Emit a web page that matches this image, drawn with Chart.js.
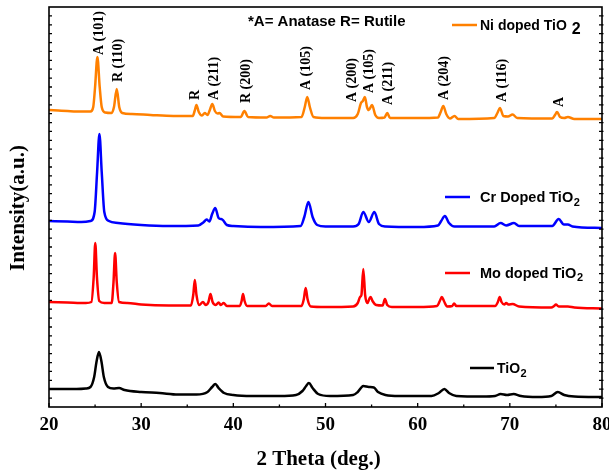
<!DOCTYPE html>
<html>
<head>
<meta charset="utf-8">
<script src="https://cdn.jsdelivr.net/npm/chart.js@4.4.0/dist/chart.umd.min.js"></script>
<style>
  html, body { margin: 0; padding: 0; background: #fff; }
  #wrap { width: 609px; height: 474px; }
</style>
</head>
<body>
<div id="wrap"><canvas id="xrd" width="609" height="474"></canvas></div>
<script>
// XRD patterns, intensities in arbitrary units (each pattern already offset)
const xTicks = [20, 30, 40, 50, 60, 70, 80];

const seriesNames = ['TiO', 'Mo doped TiO', 'Cr Doped TiO', 'Ni doped TiO'];
const seriesColors = ['#000000', '#ff0000', '#0000ff', '#ff8000'];

const tio2Theta = [20, 21, 22, 23, 24, 24.5, 24.9, 25.15, 25.42, 25.7, 25.95, 26.4, 27, 27.6, 28.2, 30, 32, 34, 36, 37.2, 37.7, 38.05, 38.4, 39, 40, 42, 45, 46.8, 47.5, 47.9, 48.2, 48.6, 49.2, 50.5, 53, 53.5, 54.1, 54.7, 55.25, 55.7, 56.5, 58, 61.5, 62.3, 62.9, 63.4, 64.2, 67, 68.4, 69, 69.7, 70.4, 71.2, 73, 74.5, 75.2, 75.9, 77, 80];
const tio2Counts = [18, 18, 18, 18, 18.5, 20, 30, 45, 55, 45, 30, 20, 18.5, 19, 17, 15, 14, 12.5, 12.5, 15, 20, 23, 19, 14, 12, 11, 11, 12, 16, 21, 24, 19, 13, 11, 12, 15, 21, 20, 19.5, 15, 12, 11, 11, 14, 18, 14, 11, 10.5, 11, 13, 12, 13, 11, 10, 11, 15, 12, 10.5, 10];

const moTheta = [20, 22, 24, 24.6, 24.85, 25.02, 25.2, 25.45, 26, 26.8, 27, 27.17, 27.35, 27.6, 28.5, 30, 33, 35.4, 35.65, 35.82, 36, 36.3, 36.7, 37, 37.3, 37.52, 37.75, 38.1, 38.4, 38.65, 38.95, 39.3, 40.7, 40.9, 41.05, 41.22, 41.5, 43.5, 43.85, 44.2, 47.4, 47.65, 47.85, 48.05, 48.4, 50, 53, 53.5, 53.75, 53.9, 54.1, 54.3, 54.55, 54.75, 54.9, 55.1, 55.5, 56.2, 56.45, 56.7, 57.2, 60, 62.1, 62.4, 62.62, 62.85, 63.2, 63.75, 63.95, 64.2, 68.4, 68.7, 68.9, 69.1, 69.4, 69.6, 69.85, 70.3, 71, 74.5, 74.8, 75, 75.3, 76.3, 77, 80];
const moCounts = [105, 104.5, 104, 105, 130, 164, 130, 106, 104, 104, 125, 154, 125, 105, 104, 102.5, 101.5, 101.5, 112, 127, 112, 102, 105, 102, 105, 113, 105, 102, 104.5, 102, 104, 101, 101, 106, 113, 106, 101, 101, 103.5, 101, 101, 108, 119, 108, 100.5, 100, 100.5, 104, 110, 112, 138, 112, 104, 108, 110, 106, 102, 101.5, 108, 102, 100, 100, 101, 106, 110, 106, 100.5, 101, 103.5, 101, 101, 105, 110, 105, 102.5, 104, 102.5, 103, 100.5, 99.5, 101, 102.5, 100.5, 100.5, 99.5, 98.5];

const crTheta = [20, 22, 23.5, 24.5, 24.95, 25.22, 25.47, 25.72, 26, 26.5, 27.5, 30, 33, 36.2, 36.8, 37.1, 37.4, 37.7, 38.04, 38.4, 38.8, 39.3, 40, 43, 47.3, 47.7, 48.15, 48.6, 49.1, 50, 53, 53.6, 54.1, 54.7, 55.3, 55.8, 56.5, 60, 62.2, 62.55, 62.95, 63.4, 64, 68.3, 69, 69.6, 70.45, 71, 74.6, 75.3, 75.85, 76.3, 76.8, 80];
const crCounts = [186, 185.5, 185, 186, 195, 235, 273, 235, 195, 186, 184, 182, 181, 181.5, 185, 187.5, 185.5, 193, 199, 189, 187.5, 182, 181, 180, 181, 190, 205, 190, 182, 180.5, 180.5, 183, 195, 185, 195, 183, 180.5, 180, 181.5, 186, 191, 184, 180.5, 180.5, 184, 181.5, 184, 181, 181, 188, 182.5, 182.5, 180.5, 179];

const niTheta = [20, 21, 22, 23.5, 24.5, 24.8, 25, 25.25, 25.5, 25.72, 26.1, 26.8, 27.05, 27.35, 27.62, 27.95, 29, 31, 33.5, 35.6, 35.8, 36, 36.25, 36.6, 36.9, 37.2, 37.45, 37.72, 38, 38.3, 38.5, 38.9, 40.8, 41.2, 41.6, 43.6, 44, 44.4, 47.4, 47.75, 48.02, 48.3, 48.7, 50, 53, 53.5, 53.85, 54.05, 54.27, 54.5, 54.7, 55.05, 55.4, 55.8, 56.4, 56.7, 57, 60, 62.2, 62.5, 62.78, 63.1, 63.5, 64, 64.4, 68.3, 68.65, 68.92, 69.3, 69.8, 70.3, 70.8, 74.6, 74.9, 75.12, 75.45, 75.9, 76.3, 77, 80];
const niCounts = [297, 296.5, 296, 295.5, 295.5, 300, 320, 350, 320, 300, 294.5, 294, 300, 318, 300, 294, 293, 292, 291, 291, 296, 302, 295, 291.5, 294, 292, 297, 303, 296, 293.5, 294, 290.5, 290, 296, 290, 289.5, 291, 289.5, 290, 300, 310, 300, 290, 289, 289, 293, 304, 306, 310, 300, 297, 302, 292, 289, 289.5, 294, 289, 289, 289.5, 295, 301, 293, 288.5, 291, 288, 289, 294, 299, 291, 290.5, 292.5, 289, 288.5, 292, 295, 290, 289, 290, 288, 288];

// phase labels above the Ni pattern: text, 2θ position, bottom of text (intensity units)
const peakLabels = [
  ['A (101)', 25.43, 352], ['R (110)', 27.55, 325], ['R', 35.87, 307],
  ['A (211)', 37.93, 307], ['R (200)', 41.41, 304], ['A (105)', 47.93, 317],
  ['A (200)', 52.93, 305], ['A (105)', 54.78, 314], ['A (211)', 56.85, 302],
  ['A (204)', 62.93, 307], ['A (116)', 69.24, 305], ['A', 75.33, 300]
];

function toPoints(theta, counts) {
  return theta.map((t, i) => ({ x: t, y: counts[i] }));
}

const patterns = [
  toPoints(tio2Theta, tio2Counts),
  toPoints(moTheta, moCounts),
  toPoints(crTheta, crCounts),
  toPoints(niTheta, niCounts)
];

const SERIF = '"Liberation Serif", "Times New Roman", serif';
const SANS = '"Liberation Sans", Arial, sans-serif';

// legend entries drawn next to each trace: [lineStart, lineEnd, lineY, textX, baseline, fontSize, subscript style]
const legendSpots = [
  [470, 494, 368, 497, 373, 14, 'sub'],
  [445, 470, 273, 480, 277.5, 14.5, 'sub'],
  [445, 470, 197, 480, 202, 14.5, 'sub'],
  [452, 477, 25, 480, 29.5, 14, 'big']
];

const xrdDecor = {
  id: 'xrdDecor',
  afterDraw(chart) {
    const { ctx, chartArea: a, scales: { x, y } } = chart;
    ctx.save();

    // frame
    ctx.strokeStyle = '#000';
    ctx.lineWidth = 1.6;
    ctx.strokeRect(a.left, a.top, a.right - a.left, a.bottom - a.top);

    // inward ticks on x axis
    ctx.lineWidth = 1.3;
    for (let v = 20; v <= 80; v += 5) {
      const px = x.getPixelForValue(v);
      const len = v % 10 === 0 ? 4 : 2.5;
      ctx.beginPath();
      ctx.moveTo(px, a.bottom);
      ctx.lineTo(px, a.bottom - len);
      ctx.stroke();
    }
    // inward ticks on both y axes
    for (let i = 1; i < 45; i++) {
      const py = y.getPixelForValue(i * 400 / 45);
      ctx.beginPath();
      ctx.moveTo(a.left, py);
      ctx.lineTo(a.left + 3, py);
      ctx.moveTo(a.right - 3, py);
      ctx.lineTo(a.right + 1.5, py);
      ctx.stroke();
    }

    // tick labels
    ctx.fillStyle = '#000';
    ctx.font = 'bold 19px ' + SERIF;
    ctx.textAlign = 'center';
    ctx.textBaseline = 'middle';
    xTicks.forEach(v => ctx.fillText(String(v), x.getPixelForValue(v), 425));

    // axis titles
    ctx.font = 'bold 21px ' + SERIF;
    ctx.textBaseline = 'alphabetic';
    ctx.fillText('2 Theta (deg.)', (a.left + a.right) / 2 - 7, 465);
    ctx.save();
    ctx.translate(24, 208);
    ctx.rotate(-Math.PI / 2);
    ctx.fillText('Intensity(a.u.)', 0, 0);
    ctx.restore();

    // phase labels, reading upward
    ctx.font = 'bold 14px ' + SERIF;
    ctx.textAlign = 'left';
    ctx.textBaseline = 'middle';
    peakLabels.forEach(([txt, t, v]) => {
      ctx.save();
      ctx.translate(x.getPixelForValue(t), y.getPixelForValue(v));
      ctx.rotate(-Math.PI / 2);
      ctx.fillText(txt, 0, 0);
      ctx.restore();
    });

    // phase key
    ctx.font = 'bold 15px ' + SANS;
    ctx.textBaseline = 'alphabetic';
    ctx.fillText('*A= Anatase R= Rutile', 248, 26);

    // legend entries beside each pattern
    legendSpots.forEach(([x0, x1, ly, tx, base, fs, style], i) => {
      ctx.strokeStyle = seriesColors[i];
      ctx.lineWidth = 2.5;
      ctx.beginPath();
      ctx.moveTo(x0, ly);
      ctx.lineTo(x1, ly);
      ctx.stroke();
      ctx.fillStyle = '#000';
      ctx.font = 'bold ' + fs + 'px ' + SANS;
      ctx.fillText(seriesNames[i], tx, base);
      const w = ctx.measureText(seriesNames[i]).width;
      if (style === 'big') {
        ctx.font = 'bold 16px ' + SANS;
        ctx.fillText('2', tx + w + 5, base + 4);
      } else {
        ctx.font = 'bold 11px ' + SANS;
        ctx.fillText('2', tx + w + 0.5, base + 3.5);
      }
    });

    ctx.restore();
  }
};

new Chart(document.getElementById('xrd'), {
  type: 'line',
  data: {
    datasets: patterns.map((pts, i) => ({
      label: seriesNames[i] + '2',
      data: pts,
      borderColor: seriesColors[i],
      borderWidth: 2.5,
      pointRadius: 0,
      cubicInterpolationMode: 'monotone',
      fill: false
    }))
  },
  options: {
    responsive: false,
    animation: false,
    layout: { padding: { left: 49, right: 7, top: 7, bottom: 67 } },
    plugins: {
      legend: { display: false },
      tooltip: { enabled: false }
    },
    scales: {
      x: { type: 'linear', min: 20, max: 80, display: false },
      y: { type: 'linear', min: 0, max: 400, display: false }
    }
  },
  plugins: [xrdDecor]
});
</script>
</body>
</html>
